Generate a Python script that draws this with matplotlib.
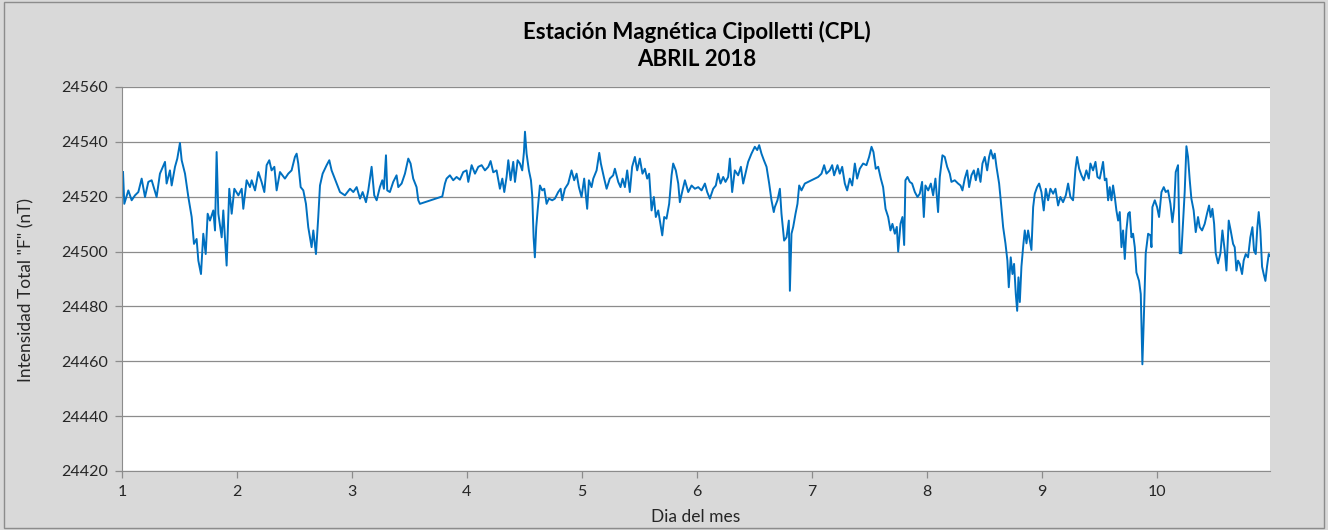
import matplotlib.pyplot as plt
from matplotlib.patches import Rectangle

# Intensidad total F (nT), día del mes (fraccional)
dias = [
    1.009, 1.020, 1.055, 1.084, 1.113, 1.142, 1.171, 1.200, 1.229, 1.258,
    1.301, 1.330, 1.374, 1.388, 1.417, 1.432, 1.461, 1.481, 1.504, 1.519,
    1.548, 1.577, 1.606, 1.626, 1.649, 1.664, 1.687, 1.707, 1.728, 1.745,
    1.765, 1.794, 1.809, 1.823, 1.838, 1.867, 1.881, 1.910, 1.933, 1.954,
    1.977, 2.012, 2.041, 2.055, 2.084, 2.113, 2.128, 2.157, 2.186, 2.214,
    2.238, 2.258, 2.281, 2.301, 2.325, 2.345, 2.374,
    2.417, 2.446, 2.475, 2.504, 2.519, 2.533, 2.554, 2.577, 2.600, 2.620,
    2.649, 2.664, 2.687, 2.707, 2.722, 2.745, 2.780, 2.803, 2.823, 2.867,
    2.896, 2.939, 2.983, 3.012, 3.041, 3.070, 3.093, 3.122, 3.142, 3.171,
    3.194, 3.215, 3.243, 3.264, 3.278, 3.296, 3.307, 3.330, 3.359, 3.388,
    3.403, 3.432, 3.461, 3.490, 3.510, 3.533, 3.562, 3.577, 3.591, 3.786,
    3.809,
    3.823, 3.852, 3.881, 3.910, 3.939, 3.968, 3.997, 4.012, 4.041, 4.070,
    4.099, 4.128, 4.157, 4.186, 4.206, 4.229, 4.258, 4.287, 4.308, 4.325,
    4.345, 4.360, 4.380, 4.403, 4.418, 4.441, 4.461, 4.481, 4.496, 4.505,
    4.519, 4.539, 4.557, 4.568, 4.580, 4.591, 4.603, 4.615, 4.635, 4.655,
    4.673, 4.693, 4.713, 4.742, 4.765, 4.794, 4.815, 4.829, 4.852, 4.881,
    4.910, 4.933, 4.954, 4.974, 4.997, 5.020, 5.046, 5.061, 5.084, 5.099,
    5.128, 5.151, 5.165, 5.194, 5.215, 5.243,
    5.272, 5.287, 5.316, 5.336, 5.354, 5.374, 5.394, 5.417, 5.437, 5.461,
    5.481, 5.504, 5.527, 5.548, 5.568, 5.585, 5.606, 5.626, 5.643, 5.664,
    5.678, 5.699, 5.716, 5.736, 5.759, 5.780, 5.794, 5.817, 5.838, 5.852,
    5.875, 5.896, 5.925, 5.954, 5.983, 6.012, 6.041, 6.070, 6.090, 6.113,
    6.142, 6.165, 6.185, 6.206, 6.229, 6.249, 6.272, 6.287, 6.307, 6.330,
    6.359, 6.383, 6.403, 6.423, 6.446, 6.475, 6.504, 6.525, 6.542, 6.562,
    6.583, 6.606, 6.629, 6.649, 6.669,
    6.678, 6.701, 6.722, 6.736, 6.759, 6.780, 6.800, 6.809, 6.823, 6.838,
    6.858, 6.875, 6.890, 6.910, 6.939, 6.968, 6.997, 7.026, 7.055, 7.084,
    7.107, 7.127, 7.156, 7.177, 7.194, 7.223, 7.243, 7.264, 7.287, 7.307,
    7.330, 7.351, 7.374, 7.394, 7.417, 7.446, 7.475, 7.498, 7.519, 7.536,
    7.556, 7.577, 7.600, 7.620, 7.641, 7.664, 7.684, 7.701, 7.722, 7.739,
    7.751, 7.771, 7.788, 7.803, 7.814, 7.832, 7.852, 7.872, 7.896, 7.919,
    7.939, 7.959, 7.974, 7.988, 8.012, 8.035, 8.055, 8.075, 8.098, 8.113,
    8.136, 8.156, 8.177, 8.200, 8.214, 8.243, 8.272, 8.293, 8.310, 8.330,
    8.351, 8.368, 8.388, 8.409, 8.426, 8.446, 8.467, 8.484, 8.504, 8.525,
    8.542, 8.557, 8.577, 8.591, 8.606, 8.629, 8.643, 8.664, 8.684, 8.701,
    8.713, 8.730, 8.745, 8.759, 8.774, 8.786, 8.797, 8.809, 8.823, 8.838,
    8.852, 8.867, 8.881, 8.896, 8.910, 8.925, 8.939, 8.959, 8.977, 8.997,
    9.017, 9.035, 9.055, 9.075, 9.099, 9.119, 9.142, 9.162, 9.185, 9.209,
    9.229, 9.249, 9.272, 9.293, 9.307, 9.325, 9.345, 9.365, 9.388, 9.409,
    9.423, 9.446, 9.467, 9.484,
    9.504, 9.519, 9.533, 9.548, 9.562, 9.577, 9.591, 9.606, 9.620, 9.635,
    9.649, 9.664, 9.678, 9.693, 9.707, 9.722, 9.736, 9.751, 9.765, 9.780,
    9.794, 9.809, 9.823, 9.846, 9.861, 9.875, 9.887, 9.904, 9.925, 9.945,
    9.954, 9.962, 9.983, 10.003, 10.020, 10.041, 10.061, 10.078, 10.098, 10.119,
    10.136, 10.151, 10.165, 10.185, 10.200, 10.214, 10.229, 10.243, 10.258, 10.272,
    10.287, 10.301, 10.321, 10.339, 10.359, 10.374, 10.394, 10.417, 10.437, 10.455,
    10.469, 10.484, 10.499, 10.513, 10.533, 10.554, 10.571, 10.591, 10.606, 10.626,
    10.643, 10.664, 10.678, 10.693, 10.707, 10.722, 10.742, 10.756, 10.774, 10.794,
    10.814, 10.832, 10.846, 10.861, 10.875, 10.887, 10.901, 10.916, 10.930, 10.945,
    10.959, 10.974, 10.985,
]

intensidad = [
    24529.0, 24517.4, 24522.3, 24518.7, 24520.5, 24521.7, 24526.6, 24519.9, 24525.4, 24526.0,
    24519.9, 24528.4, 24532.7, 24524.8, 24529.6, 24524.1, 24530.9, 24533.9, 24539.6, 24533.3,
    24528.4, 24519.9, 24512.6, 24502.8, 24504.6, 24496.7, 24491.8, 24506.5, 24499.1, 24513.8,
    24511.3, 24515.0, 24507.7, 24536.3, 24513.8, 24505.2, 24515.0, 24494.9, 24522.9, 24513.8,
    24522.9, 24520.5, 24522.9, 24515.6, 24526.0, 24523.5, 24526.0, 24522.3, 24529.0, 24525.4,
    24521.7, 24531.5, 24533.3, 24529.6, 24530.9, 24522.3, 24529.0,
    24526.6, 24528.4, 24529.6, 24534.5, 24535.7, 24532.1, 24523.5, 24522.3, 24517.4, 24508.9,
    24501.6, 24507.7, 24499.1, 24512.6, 24524.1, 24528.4, 24531.5, 24533.3, 24529.6, 24524.8,
    24521.7, 24520.5, 24522.9, 24521.7, 24523.5, 24519.3, 24521.7, 24518.0, 24522.3, 24530.9,
    24520.5, 24518.7, 24523.5, 24526.0, 24522.9, 24535.1, 24522.3, 24521.7, 24525.4, 24527.8,
    24523.5, 24524.8, 24528.4, 24533.9, 24532.1, 24526.6, 24523.5, 24518.7, 24517.4, 24520.1,
    24524.8,
    24526.6, 24527.8, 24526.0, 24527.2, 24526.2, 24529.0, 24529.6, 24525.4, 24531.5, 24528.4,
    24530.9, 24531.5, 24529.6, 24530.9, 24533.0, 24528.9, 24529.6, 24522.9, 24526.6, 24521.7,
    24527.2, 24533.3, 24526.0, 24532.7, 24525.4, 24533.3, 24532.1, 24529.6, 24536.3, 24543.7,
    24535.7, 24529.6, 24526.0, 24520.5, 24505.2, 24497.9, 24508.9, 24515.0, 24524.1, 24522.3,
    24522.9, 24517.4, 24519.3, 24518.7, 24519.3, 24521.7, 24522.9, 24518.7, 24522.9, 24524.8,
    24529.6, 24526.0, 24528.4, 24523.5, 24519.9, 24526.6, 24515.6, 24526.0, 24523.5, 24526.6,
    24529.6, 24536.0, 24532.1, 24526.6, 24522.9, 24526.6,
    24527.8, 24530.2, 24525.4, 24523.5, 24526.6, 24523.5, 24529.6, 24521.7, 24530.9, 24534.5,
    24529.6, 24533.9, 24528.4, 24530.2, 24526.6, 24528.4, 24515.0, 24519.9, 24512.6, 24515.0,
    24511.3, 24505.9, 24512.6, 24512.0, 24517.4, 24527.8, 24532.1, 24529.6, 24524.8, 24518.0,
    24522.3, 24526.0, 24521.7, 24524.1, 24522.9, 24523.5, 24522.3, 24524.8, 24521.7, 24519.3,
    24522.9, 24524.1, 24528.4, 24524.8, 24527.2, 24525.4, 24527.2, 24533.9, 24521.7, 24529.6,
    24527.8, 24530.9, 24524.8, 24528.4, 24532.7, 24535.7, 24538.2, 24537.0, 24538.8, 24535.7,
    24533.3, 24530.9, 24524.8, 24518.7, 24514.4,
    24516.2, 24518.7, 24522.9, 24513.8, 24504.0, 24505.2, 24511.3, 24485.7, 24506.5, 24509.0,
    24513.8, 24517.4, 24524.1, 24522.3, 24524.8, 24525.4, 24526.0, 24526.6, 24527.2, 24528.4,
    24531.5, 24528.4, 24529.6, 24531.5, 24527.8, 24531.5, 24528.4, 24530.9, 24524.8, 24522.3,
    24526.6, 24524.1, 24532.1, 24526.6, 24530.2, 24532.1, 24531.5, 24534.5, 24538.2, 24536.3,
    24530.2, 24530.9, 24526.6, 24523.5, 24515.6, 24512.6, 24507.7, 24510.1, 24506.5, 24509.0,
    24500.0, 24510.1, 24512.6, 24502.4, 24526.0, 24527.2, 24525.4, 24524.8, 24521.7, 24519.9,
    24521.1, 24525.4, 24512.6, 24524.1, 24522.3, 24524.8, 24520.5, 24526.6, 24514.4, 24527.2,
    24535.1, 24534.5, 24530.9, 24528.4, 24525.4, 24526.0, 24524.8, 24524.1, 24522.3, 24526.6,
    24529.6, 24523.5, 24527.8, 24529.6, 24526.0, 24530.2, 24525.4, 24532.1, 24534.5, 24529.6,
    24534.5, 24537.0, 24533.9, 24535.7, 24530.9, 24524.8, 24518.7, 24508.9, 24503.0, 24496.7,
    24487.0, 24497.9, 24491.8, 24495.5, 24484.5, 24478.4, 24490.6, 24481.6, 24494.5, 24501.8,
    24507.7, 24503.0, 24507.7, 24504.0, 24500.6, 24516.2, 24521.1, 24523.5, 24524.8, 24521.7,
    24515.0, 24522.9, 24518.7, 24522.9, 24521.1, 24522.9, 24516.8, 24519.9, 24518.0, 24520.5,
    24524.8, 24519.9, 24518.7, 24530.2, 24534.5, 24530.2, 24527.8, 24526.0, 24529.6, 24526.6,
    24532.1, 24529.6, 24532.7, 24527.2,
    24526.6, 24529.6, 24532.7, 24526.0, 24526.6, 24518.7, 24523.5, 24518.7, 24524.1, 24519.9,
    24515.0, 24511.3, 24514.4, 24501.6, 24507.7, 24497.3, 24507.7, 24513.8, 24514.4, 24505.2,
    24506.5, 24501.6, 24492.4, 24489.3, 24484.5, 24458.9, 24474.8, 24499.4, 24506.5, 24505.9,
    24501.6, 24516.2, 24518.7, 24516.2, 24512.6, 24521.7, 24523.5, 24521.7, 24522.3, 24517.4,
    24510.7, 24516.2, 24529.0, 24531.5, 24499.4, 24499.4, 24511.3, 24521.7, 24538.4, 24534.5,
    24526.0, 24519.3, 24515.0, 24507.1, 24512.6, 24508.9, 24507.7, 24510.1, 24513.8, 24516.8,
    24512.6, 24515.6, 24510.1, 24499.4, 24495.7, 24499.4, 24507.7, 24500.4, 24493.1, 24511.3,
    24507.7, 24502.8, 24501.6, 24493.1, 24496.7, 24495.5, 24491.8, 24496.7, 24499.1, 24497.9,
    24505.2, 24508.9, 24500.4, 24499.1, 24508.9, 24514.4, 24507.7, 24494.5, 24491.8, 24489.3,
    24494.5, 24499.1, 24498.5,
]

dias_ticks = [1, 2, 3, 4, 5, 6, 7, 8, 9, 10]
y_ticks = [24420, 24440, 24460, 24480, 24500, 24520, 24540, 24560]

plt.rcParams["font.family"] = ["Lato", "DejaVu Sans"]

fig = plt.figure(figsize=(13.28, 5.30), dpi=100, facecolor="#d9d9d9")
ax = fig.add_axes([122 / 1328, 1 - 471 / 530, 1148 / 1328, 384 / 530])
ax.set_facecolor("white")

ax.plot(dias, intensidad, color="#0070c0", linewidth=1.4)

ax.set_xlim(1, 10.985)
ax.set_ylim(24420, 24560)
ax.set_xticks(dias_ticks)
ax.set_yticks(y_ticks)
ax.grid(axis="y", color="#8c8c8c", linewidth=0.9)
ax.set_axisbelow(True)

for side in ["top", "right"]:
    ax.spines[side].set_visible(False)
for side in ["left", "bottom"]:
    ax.spines[side].set_color("#8c8c8c")
ax.tick_params(colors="#8c8c8c", labelcolor="#262626", labelsize=11.5,
               length=5, width=0.9, direction="out", pad=5)

# etiquetas de ejes y título en coordenadas de figura
fig.text(696 / 1328, 1 - 517 / 530, "Dia del mes", ha="center", va="center",
         fontsize=12.5, color="#262626")
fig.text(26 / 1328, 1 - 290 / 530, 'Intensidad Total "F" (nT)', ha="center",
         va="center", rotation=90, fontsize=12.5, color="#262626")

fig.text(697 / 1328, 1 - 32 / 530, "Estación Magnética Cipolletti (CPL)",
         ha="center", va="center", fontsize=16, fontweight="bold", color="black")
fig.text(697 / 1328, 1 - 60 / 530, "ABRIL 2018",
         ha="center", va="center", fontsize=16, fontweight="bold", color="black")

fig.patches.append(Rectangle((0.003, 0.004), 0.994, 0.992, transform=fig.transFigure,
                             fill=False, edgecolor="#8c8c8c", linewidth=1))

fig.savefig("out.png", dpi=100, facecolor=fig.get_facecolor())
